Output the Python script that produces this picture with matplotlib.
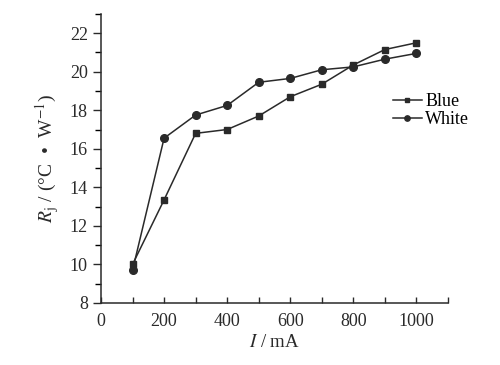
import matplotlib
matplotlib.use('Agg')
import matplotlib.pyplot as plt
from matplotlib.ticker import MultipleLocator

current = [100, 200, 300, 400, 500, 600, 700, 800, 900, 1000]
blue = [10.0, 13.35, 16.8, 17.0, 17.7, 18.7, 19.35, 20.35, 21.15, 21.5]
white = [9.7, 16.55, 17.75, 18.25, 19.45, 19.65, 20.1, 20.25, 20.65, 20.95]
xticks = [0, 200, 400, 600, 800, 1000]
yticks = [8, 10, 12, 14, 16, 18, 20, 22]

plt.rcParams['font.family'] = ['Liberation Serif', 'DejaVu Serif']
plt.rcParams['mathtext.fontset'] = 'stix'

fig = plt.figure(figsize=(5, 3.65), dpi=100)
ax = fig.add_axes([0.202, 0.170, 0.694, 0.792])
c = '#2a2a2a'
ax.plot(current, blue, '-s', color=c, lw=1.1, ms=5, label='Blue')
ax.plot(current, white, '-o', color=c, lw=1.1, ms=5.5, label='White')

ax.set_xlim(0, 1100)
ax.set_ylim(8, 23)
ax.set_xticks(xticks)
ax.set_yticks(yticks)
ax.xaxis.set_minor_locator(MultipleLocator(100))
ax.yaxis.set_minor_locator(MultipleLocator(1))
ax.tick_params(axis='x', which='both', direction='in', length=4, width=1, labelsize=13, colors=c, pad=7)
ax.tick_params(axis='y', which='major', direction='out', length=6, width=1, labelsize=13, colors=c)
ax.tick_params(axis='y', which='minor', direction='out', length=4, width=1)
for s in ['top', 'right']:
    ax.spines[s].set_visible(False)
for s in ['left', 'bottom']:
    ax.spines[s].set_linewidth(1.1)
    ax.spines[s].set_color(c)

ax.set_xlabel(r'$I$ / mA', fontsize=13.5, color=c, labelpad=3)
ax.set_ylabel(r'$R_\mathrm{j}$ / (°C  •  W$^{-1}$)', fontsize=14, color=c, labelpad=6)

ax.legend(loc='upper left', bbox_to_anchor=(0.82, 0.75), frameon=False, fontsize=13,
          handlelength=1.6, handletextpad=0.2, labelspacing=0.05, borderaxespad=0,
          markerscale=0.7)

fig.savefig('out.png', dpi=100)
